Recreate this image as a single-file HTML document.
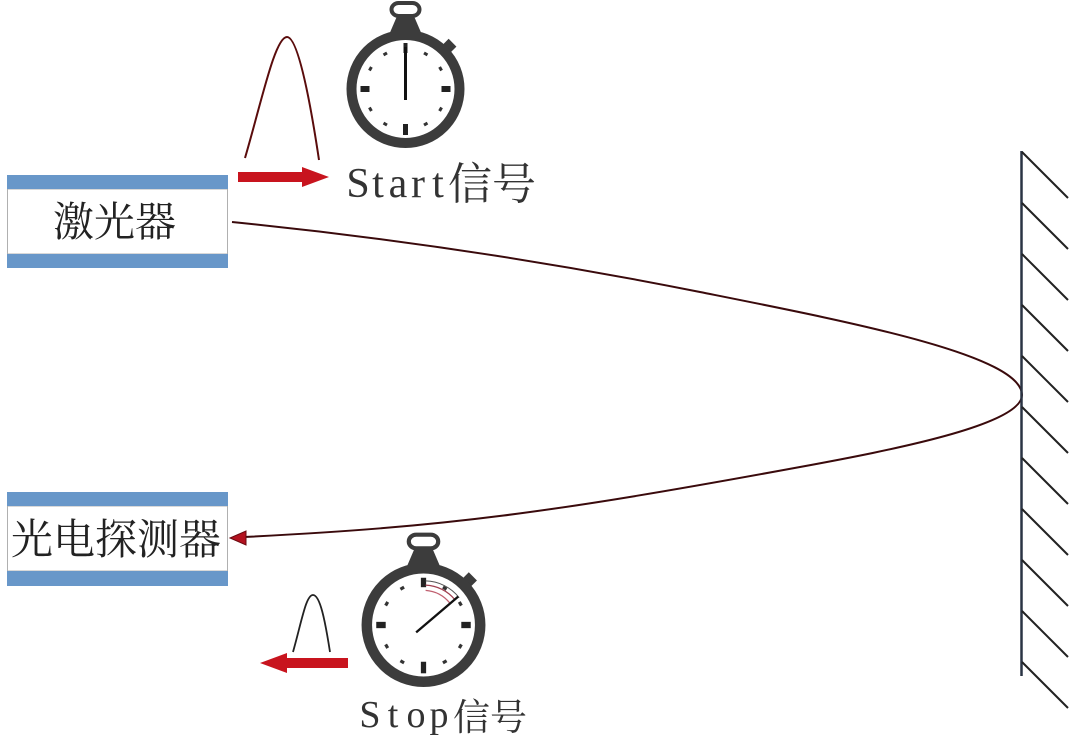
<!DOCTYPE html>
<html><head><meta charset="utf-8"><style>
html,body{margin:0;padding:0;background:#fff;}
svg{display:block;}
</style></head><body>
<svg width="1080" height="739" viewBox="0 0 1080 739" xmlns="http://www.w3.org/2000/svg">
<rect width="1080" height="739" fill="#fff"/>

<!-- Laser box -->
<rect x="7.5" y="189" width="220" height="65" fill="#fff" stroke="#b0b0b0" stroke-width="1"/>
<rect x="7" y="175" width="221" height="14" fill="#6897c9"/>
<rect x="7" y="254" width="221" height="14" fill="#6897c9"/>
<text x="53" y="236" font-family="'Noto Serif CJK SC','Liberation Serif',serif" font-size="41" fill="#222">激光器</text>

<!-- Detector box -->
<rect x="7.5" y="506" width="220" height="65" fill="#fff" stroke="#b0b0b0" stroke-width="1"/>
<rect x="7" y="492" width="221" height="14" fill="#6897c9"/>
<rect x="7" y="571" width="221" height="15" fill="#6897c9"/>
<text x="11" y="554" font-family="'Noto Serif CJK SC','Liberation Serif',serif" font-size="42" fill="#222">光电探测器</text>

<!-- Beam -->
<path d="M232,222 C388,237.6 544,260.8 700,292 C850,322 1022,355 1022,395" fill="none" stroke="#3a0a0c" stroke-width="2"/>
<path d="M1022,395 C1022,425 890,450.4 800,467 C550,513 445,527 244,537" fill="none" stroke="#3a0a0c" stroke-width="2"/>
<polygon points="230,538 246,531 246,545" fill="#b3121f" stroke="#6a0a10" stroke-width="1"/>

<!-- Mirror -->
<line x1="1021.5" y1="151" x2="1021.5" y2="676" stroke="#2a3444" stroke-width="2.5"/>
<g stroke="#222" stroke-width="2">
<line x1="1022" y1="152" x2="1068" y2="198"/>
<line x1="1022" y1="203" x2="1068" y2="249"/>
<line x1="1022" y1="254" x2="1068" y2="300"/>
<line x1="1022" y1="305" x2="1068" y2="351"/>
<line x1="1022" y1="356" x2="1068" y2="402"/>
<line x1="1022" y1="407" x2="1068" y2="453"/>
<line x1="1022" y1="458" x2="1068" y2="504"/>
<line x1="1022" y1="509" x2="1068" y2="555"/>
<line x1="1022" y1="560" x2="1068" y2="606"/>
<line x1="1022" y1="611" x2="1068" y2="657"/>
<line x1="1022" y1="662" x2="1068" y2="708"/>
</g>

<!-- Start pulse & arrow -->
<path d="M245,158 C262,100 275,37 287,37 C298,37 310,100 319,160" fill="none" stroke="#5a0c0c" stroke-width="2"/>
<polygon points="238,172 302,172 302,167 329,177 302,187 302,182 238,182" fill="#c8141e"/>

<!-- Stop pulse & arrow -->
<path d="M293,652 C302,620 306,595 313,595 C320,595 325,620 330,652" fill="none" stroke="#222" stroke-width="1.8"/>
<polygon points="348,658 287,658 287,653 260,663 287,673 287,668 348,668" fill="#c8141e"/>

<!-- Start stopwatch -->
<g transform="translate(405.5,89)">
  <rect x="-14" y="-86" width="28" height="13" rx="7" fill="none" stroke="#3c3c3c" stroke-width="4"/>
  <path d="M-8,-74 L8,-74 L17,-53 L-17,-53 Z" fill="#3c3c3c"/>
  <rect x="-5" y="-4" width="11" height="8" fill="#3c3c3c" transform="rotate(45) translate(0,-62)"/>
  <circle r="54" fill="#fff" stroke="#3c3c3c" stroke-width="10"/>
  <rect x="-2" y="-46" width="4" height="10" fill="#222"/>
  <line x1="0" y1="-42" x2="0" y2="11" stroke="#111" stroke-width="3"/>
  <rect x="-45" y="-3" width="9" height="6" fill="#222"/>
  <rect x="36" y="-3" width="9" height="6" fill="#222"/>
  <rect x="-2.5" y="35" width="5" height="11" fill="#222"/>
  <g fill="#333">
    <rect x="-2" y="-42" width="4" height="3" transform="rotate(30)"/>
    <rect x="-2" y="-42" width="4" height="3" transform="rotate(60)"/>
    <rect x="-2" y="-42" width="4" height="3" transform="rotate(120)"/>
    <rect x="-2" y="-42" width="4" height="3" transform="rotate(150)"/>
    <rect x="-2" y="-42" width="4" height="3" transform="rotate(210)"/>
    <rect x="-2" y="-42" width="4" height="3" transform="rotate(240)"/>
    <rect x="-2" y="-42" width="4" height="3" transform="rotate(300)"/>
    <rect x="-2" y="-42" width="4" height="3" transform="rotate(330)"/>
  </g>
</g>

<!-- Stop stopwatch -->
<g transform="translate(423.5,625) scale(1.05)">
  <rect x="-14" y="-86" width="28" height="13" rx="7" fill="none" stroke="#3c3c3c" stroke-width="4"/>
  <path d="M-8,-74 L8,-74 L17,-53 L-17,-53 Z" fill="#3c3c3c"/>
  <rect x="-5" y="-4" width="11" height="8" fill="#3c3c3c" transform="rotate(45) translate(0,-62)"/>
  <circle r="54" fill="#fff" stroke="#3c3c3c" stroke-width="10"/>
  <rect x="-2.5" y="-45" width="5" height="9" fill="#222"/>
  <path d="M2,-38 A38,38 0 0 1 30,-24" fill="none" stroke="#a04050" stroke-width="1.2"/>
  <path d="M2,-33 A33,33 0 0 1 25,-21" fill="none" stroke="#c06070" stroke-width="1.2"/>
  <path d="M2,-42 A42,42 0 0 1 34,-26" fill="none" stroke="#555" stroke-width="1"/>
  <line x1="-7" y1="7" x2="33" y2="-27" stroke="#111" stroke-width="2.2"/>
  <rect x="-45" y="-3" width="9" height="6" fill="#222"/>
  <rect x="36" y="-3" width="9" height="6" fill="#222"/>
  <rect x="-2.5" y="35" width="5" height="11" fill="#222"/>
  <g fill="#333">
    <rect x="-2" y="-42" width="4" height="3" transform="rotate(30)"/>
    <rect x="-2" y="-42" width="4" height="3" transform="rotate(60)"/>
    <rect x="-2" y="-42" width="4" height="3" transform="rotate(120)"/>
    <rect x="-2" y="-42" width="4" height="3" transform="rotate(150)"/>
    <rect x="-2" y="-42" width="4" height="3" transform="rotate(210)"/>
    <rect x="-2" y="-42" width="4" height="3" transform="rotate(240)"/>
    <rect x="-2" y="-42" width="4" height="3" transform="rotate(300)"/>
    <rect x="-2" y="-42" width="4" height="3" transform="rotate(330)"/>
  </g>
</g>

<!-- Labels -->
<text x="358 378 398 418 438" y="197" text-anchor="middle" font-family="'Liberation Serif',serif" font-size="42" fill="#333">Start</text>
<text x="448" y="199" font-family="'Noto Serif CJK SC','Liberation Serif',serif" font-size="44" fill="#333">信号</text>
<text x="370 393 416 439" y="727" text-anchor="middle" font-family="'Liberation Serif',serif" font-size="38" fill="#333">Stop</text>
<text x="453" y="730" font-family="'Noto Serif CJK SC','Liberation Serif',serif" font-size="37" fill="#333">信号</text>
</svg>
</body></html>
